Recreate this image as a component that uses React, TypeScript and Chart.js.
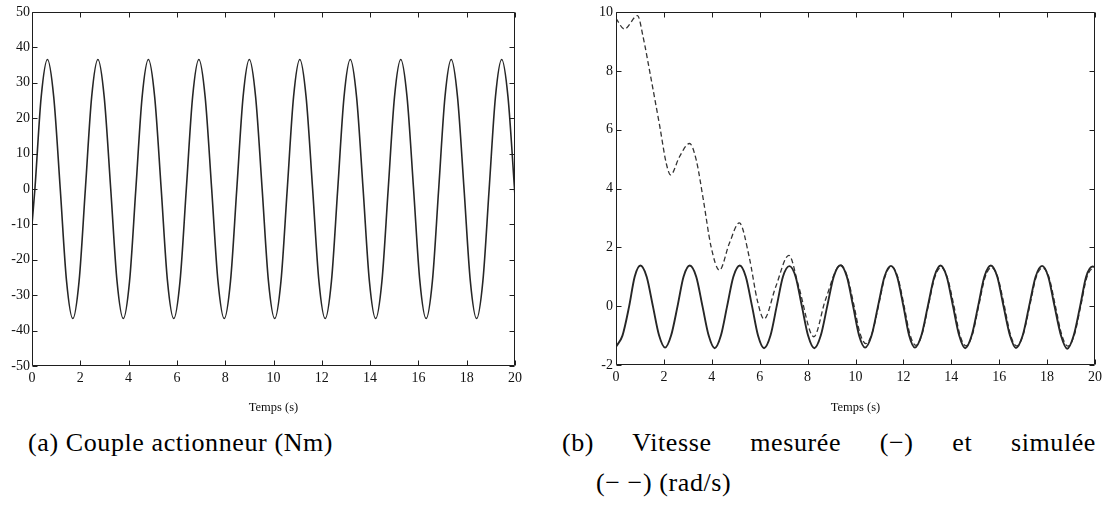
import React, { useEffect, useRef } from 'react';
import { Chart, registerables } from 'chart.js';

Chart.register(...registerables);

// ---------- data ----------
const xTicks = [0, 2, 4, 6, 8, 10, 12, 14, 16, 18, 20];
const coupleTicks = [-50, -40, -30, -20, -10, 0, 10, 20, 30, 40, 50];
const vitesseTicks = [-2, 0, 2, 4, 6, 8, 10];

// (a) Couple actionneur (Nm)
const tCouple = [
  0, 0.12, 0.38, 0.64, 0.9, 1.17, 1.43, 1.69, 1.95, 2.21, 2.47, 2.73, 2.99, 3.26, 3.52, 3.78,
  4.04, 4.3, 4.56, 4.82, 5.08, 5.35, 5.61, 5.87, 6.13, 6.39, 6.65, 6.91, 7.17, 7.44, 7.7, 7.96,
  8.22, 8.48, 8.74, 9.0, 9.26, 9.53, 9.79, 10.05, 10.31, 10.57, 10.83, 11.09, 11.35, 11.62, 11.88,
  12.14, 12.4, 12.66, 12.92, 13.18, 13.44, 13.71, 13.97, 14.23, 14.49, 14.75, 15.01, 15.27, 15.53,
  15.8, 16.06, 16.32, 16.58, 16.84, 17.1, 17.36, 17.62, 17.89, 18.15, 18.41, 18.67, 18.93, 19.19,
  19.45, 19.71, 19.98, 20,
];
const couple = [
  -10, 0, 26, 36.6, 26, 0, -26, -36.6, -26, 0, 26, 36.6, 26, 0, -26, -36.6,
  -26, 0, 26, 36.6, 26, 0, -26, -36.6, -26, 0, 26, 36.6, 26, 0, -26, -36.6,
  -26, 0, 26, 36.6, 26, 0, -26, -36.6, -26, 0, 26, 36.6, 26, 0, -26,
  -36.6, -26, 0, 26, 36.6, 26, 0, -26, -36.6, -26, 0, 26, 36.6, 26,
  0, -26, -36.6, -26, 0, 26, 36.6, 26, 0, -26, -36.6, -26, 0, 26,
  36.6, 26, 0, -2,
];

// (b) Vitesse mesurée (solid)
const tMesuree = [
  0, 0.27, 0.55, 0.78, 1.02, 1.28, 1.54, 1.8, 2.05, 2.3, 2.57, 2.82, 3.08, 3.35, 3.61, 3.87,
  4.12, 4.38, 4.64, 4.9, 5.17, 5.42, 5.68, 5.93, 6.18, 6.45, 6.71, 6.97, 7.24, 7.5, 7.76, 8.02,
  8.28, 8.55, 8.82, 9.09, 9.37, 9.64, 9.9, 10.15, 10.4, 10.67, 10.94, 11.21, 11.48, 11.74, 12.0,
  12.24, 12.48, 12.75, 13.02, 13.29, 13.55, 13.81, 14.07, 14.33, 14.58, 14.85, 15.12, 15.38,
  15.65, 15.92, 16.18, 16.45, 16.7, 16.98, 17.25, 17.52, 17.79, 18.05, 18.31, 18.58, 18.84,
  19.11, 19.38, 19.63, 19.9, 20,
];
const vMesuree = [
  -1.38, -1.0, 0, 1.0, 1.38, 1.0, 0, -1.0, -1.41, -1.0, 0, 1.0, 1.38, 1.0, 0, -1.0,
  -1.43, -1.0, 0, 1.0, 1.38, 1.0, 0, -1.0, -1.43, -1.0, 0, 1.0, 1.36, 1.0, 0, -1.0,
  -1.43, -1.0, 0, 1.0, 1.39, 1.0, 0, -1.0, -1.41, -1.0, 0, 1.0, 1.37, 1.0, 0,
  -1.0, -1.41, -1.0, 0, 1.0, 1.38, 1.0, 0, -1.0, -1.43, -1.0, 0, 1.0,
  1.38, 1.0, 0, -1.0, -1.42, -1.0, 0, 1.0, 1.37, 1.0, 0, -1.0, -1.45,
  -1.0, 0, 1.0, 1.35, 1.33,
];

// (b) Vitesse simulée (dashed)
const tSimulee = [
  0, 0.35, 0.9, 1.13, 1.41, 1.83, 2.1, 2.28, 2.65, 3.07, 3.35, 3.65, 3.97, 4.32, 4.73, 5.15,
  5.56, 5.9, 6.18, 6.67, 7.22, 7.63, 8.26, 8.74, 9.38, 9.66, 9.93, 10.18, 10.43, 10.7, 10.97,
  11.23, 11.49, 11.76, 12.02, 12.27, 12.52, 12.78, 13.05, 13.31, 13.57, 13.83, 14.1, 14.35,
  14.61, 14.88, 15.15, 15.41, 15.68, 15.94, 16.21, 16.47, 16.73, 17.0, 17.28, 17.54, 17.81,
  18.08, 18.34, 18.61, 18.87, 19.14, 19.41, 19.66, 19.93, 20,
];
const vSimulee = [
  9.78, 9.42, 9.88, 9.16, 7.97, 6.1, 4.85, 4.46, 5.08, 5.53, 4.97, 3.6, 2.02, 1.22, 2.13, 2.83,
  1.68, 0.2, -0.44, 0.66, 1.73, 0.66, -1.04, 0.2, 1.4, 1.0, 0.05, -0.9, -1.27, -0.9, 0.05,
  1.0, 1.35, 1.0, 0.05, -0.95, -1.33, -0.95, 0.05, 0.98, 1.32, 0.98, 0.05, -0.95,
  -1.35, -0.97, 0.03, 0.98, 1.31, 0.98, 0.03, -0.97, -1.35, -0.97, 0.03, 0.98, 1.3,
  0.98, 0.03, -0.97, -1.36, -0.97, 0.03, 0.98, 1.28, 1.27,
];

// ---------- styling ----------
const FONT = '"Liberation Serif", "DejaVu Serif", "Times New Roman", Times, serif';
const INK = '#111';
const LINE = '#262626';

const framePlugin = {
  id: 'matlabFrame',
  afterDatasetsDraw(chart: any) {
    const { ctx, chartArea: a, scales } = chart;
    const L = Math.round(a.left) + 0.5;
    const R = Math.round(a.right) - 0.5;
    const T = Math.round(a.top) + 0.5;
    const B = Math.round(a.bottom) - 0.5;
    const tl = 5;
    ctx.save();
    ctx.strokeStyle = '#1e1e1e';
    ctx.lineWidth = 1;
    ctx.beginPath();
    ctx.rect(L, T, R - L, B - T);
    for (const t of scales.x.ticks) {
      const px = Math.round(scales.x.getPixelForValue(t.value)) + 0.5;
      ctx.moveTo(px, B);
      ctx.lineTo(px, B - tl);
      ctx.moveTo(px, T);
      ctx.lineTo(px, T + tl);
    }
    for (const t of scales.y.ticks) {
      const py = Math.round(scales.y.getPixelForValue(t.value)) + 0.5;
      ctx.moveTo(L, py);
      ctx.lineTo(L + tl, py);
      ctx.moveTo(R, py);
      ctx.lineTo(R - tl, py);
    }
    ctx.stroke();
    ctx.restore();
  },
};

function makeOptions(
  yMin: number,
  yMax: number,
  yTickValues: number[],
  yWidth: number,
  xHeight: number,
  padRight: number,
  yPad: number
) {
  return {
    animation: false,
    responsive: false,
    devicePixelRatio: 1,
    layout: { padding: { left: 0, top: 12, right: padRight, bottom: 0 } },
    plugins: { legend: { display: false }, tooltip: { enabled: false } },
    elements: { point: { radius: 0 } },
    scales: {
      x: {
        type: 'linear',
        min: 0,
        max: 20,
        grid: { display: false, drawTicks: false },
        border: { display: false },
        afterBuildTicks: (s: any) => {
          s.ticks = xTicks.map((v) => ({ value: v }));
        },
        afterFit: (s: any) => {
          s.height = xHeight;
        },
        ticks: {
          color: INK,
          font: { family: FONT, size: 14 },
          padding: 4,
          maxRotation: 0,
          autoSkip: false,
          callback: (v: any) => String(v),
        },
        title: {
          display: true,
          text: 'Temps (s)',
          color: INK,
          font: { family: FONT, size: 12.5 },
          padding: { top: 0, bottom: 5 },
        },
      },
      y: {
        type: 'linear',
        min: yMin,
        max: yMax,
        grid: { display: false, drawTicks: false },
        border: { display: false },
        afterBuildTicks: (s: any) => {
          s.ticks = yTickValues.map((v) => ({ value: v }));
        },
        afterFit: (s: any) => {
          s.width = yWidth;
        },
        ticks: {
          color: INK,
          font: { family: FONT, size: 14 },
          padding: yPad,
          autoSkip: false,
          callback: (v: any) => String(v),
        },
      },
    },
  };
}

const pts = (xs: number[], ys: number[]) => xs.map((x, i) => ({ x, y: ys[i] }));

export default function App() {
  const refA = useRef<HTMLCanvasElement | null>(null);
  const refB = useRef<HTMLCanvasElement | null>(null);

  useEffect(() => {
    const chartA = new Chart(refA.current as HTMLCanvasElement, {
      type: 'line',
      data: {
        datasets: [
          {
            data: pts(tCouple, couple),
            borderColor: LINE,
            borderWidth: 1.6,
            cubicInterpolationMode: 'monotone',
            pointRadius: 0,
            fill: false,
          },
        ],
      },
      options: makeOptions(-50, 50, coupleTicks, 32, 54, 30, 2) as any,
      plugins: [framePlugin],
    });
    const chartB = new Chart(refB.current as HTMLCanvasElement, {
      type: 'line',
      data: {
        datasets: [
          {
            data: pts(tMesuree, vMesuree),
            borderColor: LINE,
            borderWidth: 1.9,
            cubicInterpolationMode: 'monotone',
            pointRadius: 0,
            fill: false,
          },
          {
            data: pts(tSimulee, vSimulee),
            borderColor: '#333',
            borderWidth: 1.3,
            borderDash: [5, 3],
            cubicInterpolationMode: 'monotone',
            pointRadius: 0,
            fill: false,
          },
        ],
      },
      options: makeOptions(-2, 10, vitesseTicks, 56, 55, 8, 3) as any,
      plugins: [framePlugin],
    });
    return () => {
      chartA.destroy();
      chartB.destroy();
    };
  }, []);

  const capStyle: React.CSSProperties = {
    position: 'absolute',
    fontFamily: FONT,
    fontSize: 26,
    lineHeight: '30px',
    color: '#000',
    whiteSpace: 'nowrap',
    letterSpacing: '0.6px',
  };

  return (
    <div
      style={{
        position: 'absolute',
        left: 0,
        top: 0,
        width: 1106,
        height: 512,
        background: '#fff',
        overflow: 'hidden',
      }}
    >
      <canvas
        ref={refA}
        width={545}
        height={420}
        style={{ position: 'absolute', left: 0, top: 0, width: 545, height: 420 }}
      />
      <canvas
        ref={refB}
        width={546}
        height={420}
        style={{ position: 'absolute', left: 560, top: 0, width: 546, height: 420 }}
      />
      <div style={{ ...capStyle, left: 28, top: 428 }}>(a) Couple actionneur (Nm)</div>
      <div
        style={{
          ...capStyle,
          left: 562,
          top: 428,
          width: 534,
          whiteSpace: 'normal',
          textAlign: 'justify',
          textAlignLast: 'justify',
        }}
      >
        (b) Vitesse mesurée (−) et simulée
      </div>
      <div style={{ ...capStyle, left: 596, top: 468 }}>(− −) (rad/s)</div>
    </div>
  );
}
